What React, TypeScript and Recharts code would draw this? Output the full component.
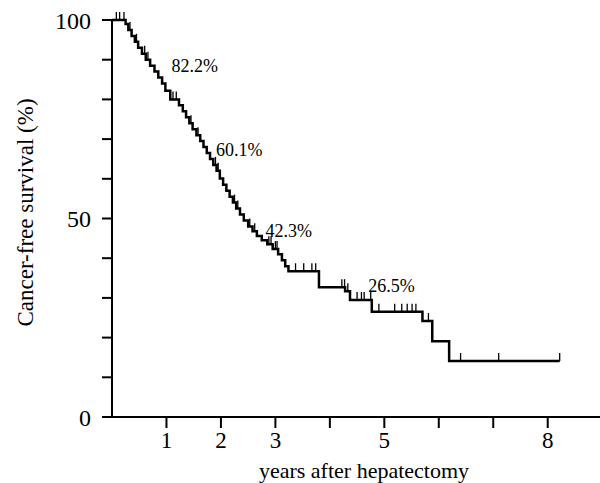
import React from "react";
import {
  ComposedChart,
  Line,
  Scatter,
  XAxis,
  YAxis,
} from "recharts";

// Kaplan-Meier steps: time (years) and survival (%) after each drop
const stepTimes = [
  0, 0.25, 0.3, 0.36, 0.42, 0.48, 0.55, 0.62, 0.7, 0.78, 0.85, 0.92, 0.98,
  1.07, 1.23, 1.3, 1.36, 1.42, 1.48, 1.55, 1.62, 1.68, 1.74, 1.8, 1.86, 1.92,
  1.98, 2.04, 2.1, 2.16, 2.22, 2.28, 2.35, 2.42, 2.5, 2.58, 2.66, 2.75, 2.85,
  2.95, 3.05, 3.12, 3.18, 3.24, 3.8, 4.28, 4.37, 4.77, 5.7, 5.88, 6.19, 8.22,
];
const stepSurvival = [
  100, 99, 97.5, 96, 94.5, 93, 91.5, 90, 88.5, 87, 85.5, 84, 82.2,
  80, 78.5, 77, 75.5, 74, 72.5, 71, 69.5, 68, 66.5, 65, 63.5, 62,
  60.1, 58.5, 57, 55.5, 54, 52.5, 51, 49.5, 48, 46.8, 45.6, 44.5, 43.5,
  42.3, 41, 39.5, 38, 36.7, 32.7, 31.7, 29.5, 26.5, 24.2, 19.1, 14.1, 14.1,
];

// censored observations
const censorTimes = [
  0.08, 0.14, 0.22, 0.33, 0.45, 0.6, 0.66, 1.12, 1.18, 1.45, 1.58, 1.9, 1.95,
  2.25, 2.31, 2.53, 2.62, 2.88, 2.92, 3.0, 3.03, 3.37, 3.52, 3.67, 3.74, 4.22,
  4.27, 4.33, 4.5, 4.58, 4.63, 4.75, 4.9, 5.19, 5.32, 5.42, 5.51, 5.58, 5.81,
  6.4, 7.1, 8.22,
];
const censorSurvival = [
  100, 100, 100, 97.5, 94.5, 91.5, 90, 80, 80, 74, 71, 63.5, 62,
  54, 52.5, 48, 46.8, 43.5, 43.5, 42.3, 42.3, 36.7, 36.7, 36.7, 36.7, 32.7,
  32.7, 31.7, 29.5, 29.5, 29.5, 29.5, 26.5, 26.5, 26.5, 26.5, 26.5, 26.5, 24.2,
  14.1, 14.1, 14.1,
];

// survival estimates annotated at 1, 2, 3 and 5 years
const markTimes = [1, 2, 3, 5];
const markValues = [82.2, 60.1, 42.3, 26.5];

const xTicks = [1, 2, 3, 4, 5, 6, 7, 8];
const xLabeled = [1, 2, 3, 5, 8];
const yTicks = [0, 10, 20, 30, 40, 50, 60, 70, 80, 90, 100];
const yLabeled = [0, 50, 100];

const curveData = stepTimes.map((t, i) => ({ t, s: stepSurvival[i] }));
const censorData = censorTimes.map((t, i) => ({ t, s: censorSurvival[i] }));
const markData = markTimes.map((t, i) => ({
  t,
  s: markValues[i],
  label: markValues[i].toFixed(1) + "%",
}));

const labelOffsets = [
  [5, -19],
  [-5, -22],
  [-10, -12],
  [-16, -20],
];

const FONT = "'Liberation Serif', 'DejaVu Serif', serif";

const CensorMark = (props: any) => {
  const { cx, cy } = props;
  return (
    <line x1={cx} x2={cx} y1={cy} y2={cy - 8} stroke='#000' strokeWidth={1.3} />
  );
};

const MarkLabel = (props: any) => {
  const { cx, cy, payload, index } = props;
  const off = labelOffsets[index] || [0, 0];
  return (
    <text
      x={cx + off[0]}
      y={cy + off[1]}
      fontFamily={FONT}
      fontSize={18}
      fill='#000'
    >
      {payload.label}
    </text>
  );
};

const App = () => {
  return (
    <div
      style={{
        position: "absolute",
        left: 0,
        top: 0,
        width: 600,
        height: 483,
        background: "#fff",
      }}
    >
      <ComposedChart
        width={600}
        height={483}
        margin={{ top: 20, right: 0, left: 0, bottom: 0 }}
      >
        <XAxis
          type='number'
          dataKey='t'
          domain={[0, 8.96]}
          ticks={xTicks}
          tickFormatter={(v: number) => (xLabeled.includes(v) ? String(v) : "")}
          height={66}
          tickSize={11}
          tickMargin={4}
          axisLine={{ stroke: "#000", strokeWidth: 2 }}
          tickLine={{ stroke: "#000", strokeWidth: 2 }}
          tick={{ fill: "#000", fontSize: 23, fontFamily: FONT }}
          label={{
            content: (p: any) => {
              const vb = p.viewBox;
              return (
                <text
                  x={364}
                  y={vb.y + 61}
                  textAnchor='middle'
                  fontFamily={FONT}
                  fontSize={22}
                  fill='#000'
                >
                  years after hepatectomy
                </text>
              );
            },
          }}
        />
        <YAxis
          type='number'
          dataKey='s'
          domain={[0, 100]}
          ticks={yTicks}
          tickFormatter={(v: number) => (yLabeled.includes(v) ? String(v) : "")}
          width={112}
          tickSize={10}
          tickMargin={11}
          axisLine={{ stroke: "#000", strokeWidth: 2 }}
          tickLine={{ stroke: "#000", strokeWidth: 2 }}
          tick={{ fill: "#000", fontSize: 24, fontFamily: FONT }}
          label={{
            content: (p: any) => {
              const vb = p.viewBox;
              const cy = vb.y + vb.height / 2 - 6;
              return (
                <text
                  x={25}
                  y={cy}
                  transform={`rotate(-90 25 ${cy})`}
                  textAnchor='middle'
                  dominantBaseline='central'
                  fontFamily={FONT}
                  fontSize={23}
                  fill='#000'
                >
                  Cancer-free survival (%)
                </text>
              );
            },
          }}
        />
        <Line
          data={curveData}
          type='stepAfter'
          dataKey='s'
          stroke='#000'
          strokeWidth={2.5}
          dot={false}
          isAnimationActive={false}
        />
        <Scatter
          data={censorData}
          dataKey='s'
          shape={CensorMark}
          isAnimationActive={false}
        />
        <Scatter
          data={markData}
          dataKey='s'
          shape={MarkLabel}
          isAnimationActive={false}
        />
      </ComposedChart>
    </div>
  );
};

export default App;
